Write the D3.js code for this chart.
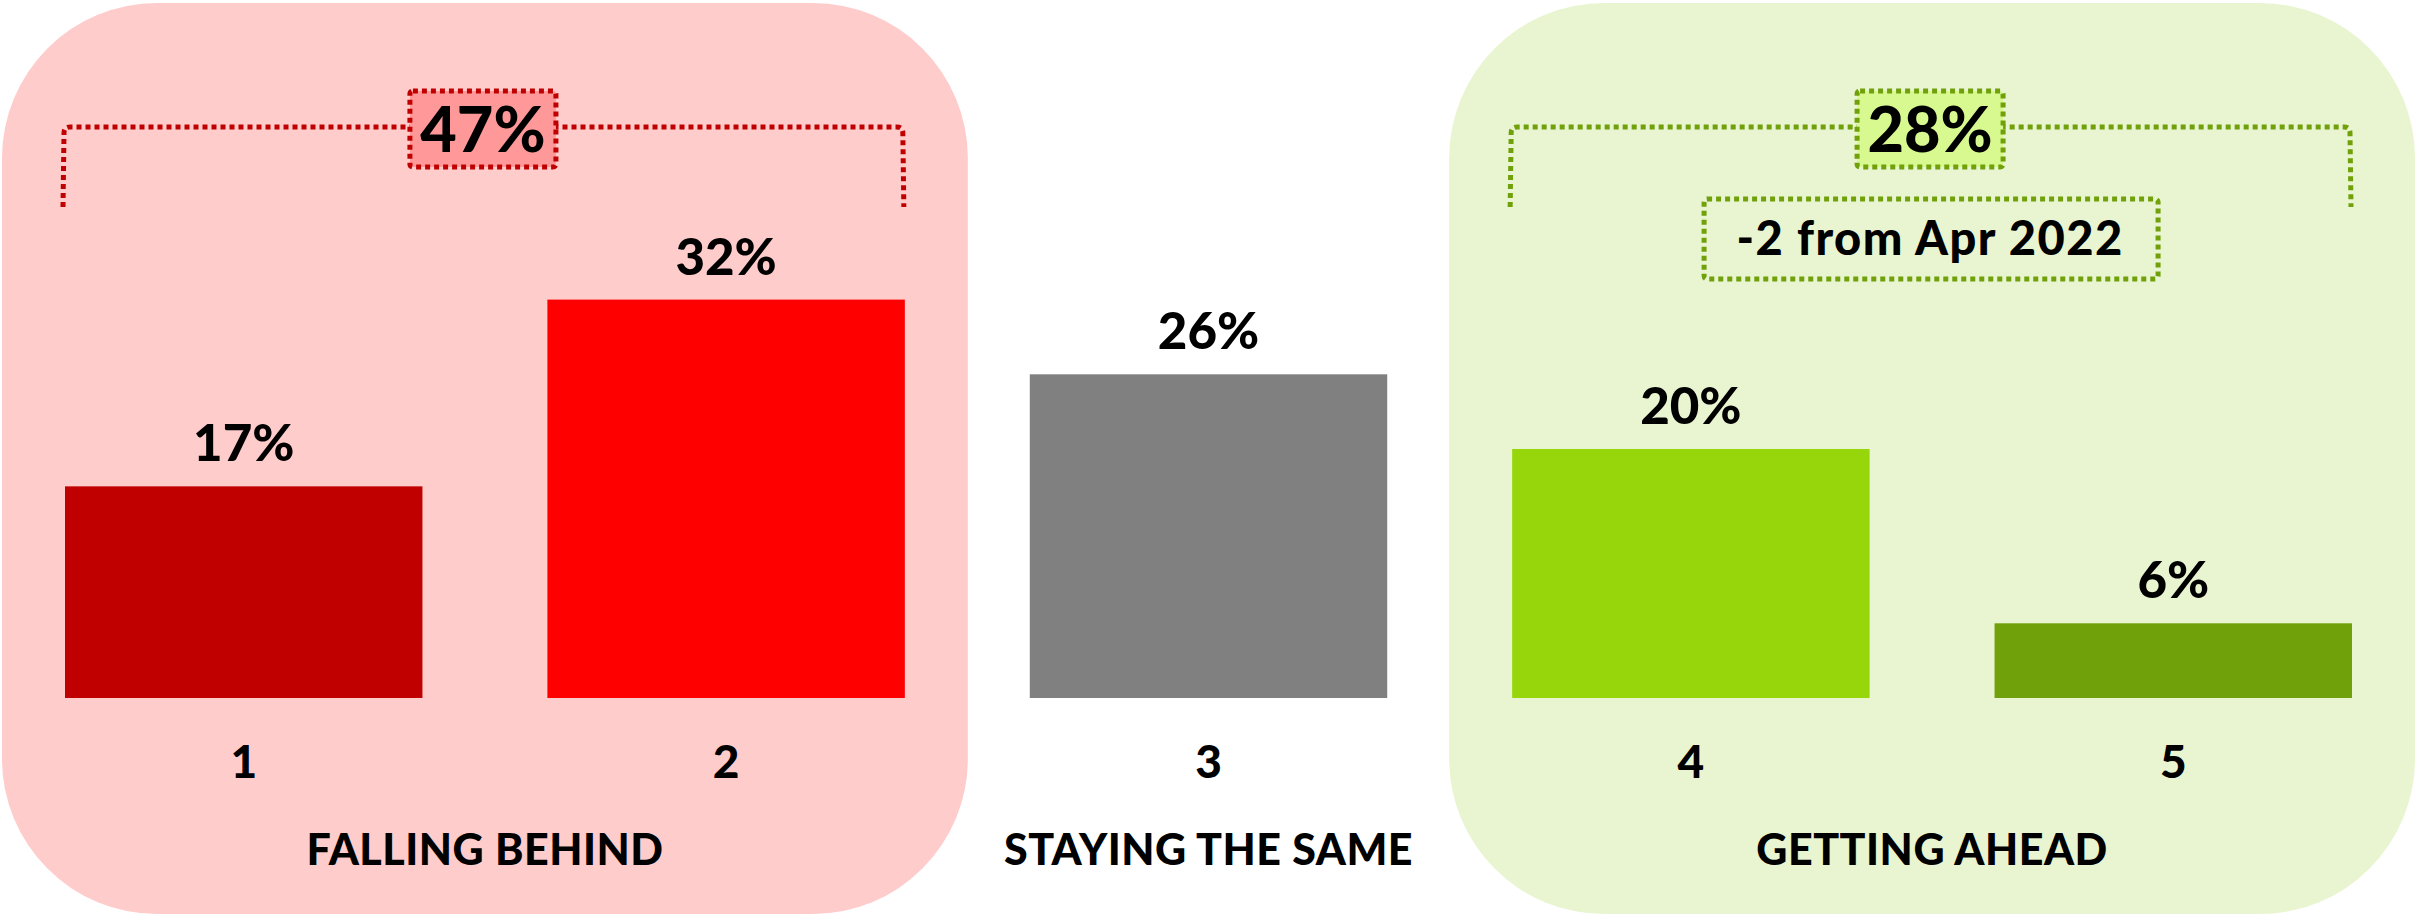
<!DOCTYPE html>
<html lang="en">
<head>
<meta charset="UTF-8">
<title>Falling behind / getting ahead</title>
<script src="https://cdn.jsdelivr.net/npm/d3@7"></script>
<style>
    body { margin: 0; background: #fff; }
    text { font-family: Lato, "Open Sans", sans-serif; font-weight: 900; fill: #000; }
</style>
</head>
<body>
<script>
    // data
    var categories = ["1", "2", "3", "4", "5"];
    var values = [17, 32, 26, 20, 6];
    var barColors = ["#c00000", "#ff0000", "#808080", "#97d60a", "#70a00a"];

    var groupLabels = ["FALLING BEHIND", "STAYING THE SAME", "GETTING AHEAD"];
    var groupFirst = ["1", "3", "4"];
    var groupLast = ["2", "3", "5"];
    var groupTotals = ["47%", null, "28%"];
    var groupPanel = ["#ffcccc", null, "#e9f5d0"];
    var groupStroke = ["#c00000", null, "#70a00a"];
    var groupBox = ["#ff9999", null, "#d7f98f"];
    var gettingAheadNote = "-2 from Apr 2022";

    var width = 2417, height = 916;

    var x = d3.scaleBand()
        .domain(categories)
        .range([65, 2352])
        .paddingInner(0.259)
        .paddingOuter(0);

    var y = d3.scaleLinear()
        .domain([0, 40])
        .range([698, 200]);

    var svg = d3.select("body").append("svg")
        .attr("width", width)
        .attr("height", height);

    // background panels for the two outer groups
    groupLabels.forEach(function(g, i) {
        if (!groupPanel[i]) return;
        var x0 = x(groupFirst[i]) - 63;
        var x1 = x(groupLast[i]) + x.bandwidth() + 63;
        svg.append("rect")
            .attr("x", x0)
            .attr("y", 3)
            .attr("width", x1 - x0)
            .attr("height", 911)
            .attr("rx", 155)
            .attr("ry", 155)
            .attr("fill", groupPanel[i]);
    });

    // bars
    svg.selectAll(".bar")
        .data(values)
        .enter().append("rect")
        .attr("class", "bar")
        .attr("x", (d, i) => x(categories[i]))
        .attr("y", d => y(d))
        .attr("width", x.bandwidth())
        .attr("height", d => y(0) - y(d))
        .attr("fill", (d, i) => barColors[i]);

    // value labels
    svg.selectAll(".val")
        .data(values)
        .enter().append("text")
        .attr("class", "val")
        .attr("x", (d, i) => x(categories[i]) + x.bandwidth() / 2)
        .attr("y", d => y(d) - 25)
        .attr("text-anchor", "middle")
        .style("font-size", "51px")
        .text(d => d + "%");

    // category axis (no line, no ticks)
    var xAxis = d3.axisBottom(x).tickSize(0).tickPadding(0);
    var axisG = svg.append("g")
        .attr("transform", "translate(0,745)")
        .call(xAxis);
    axisG.select(".domain").remove();
    axisG.selectAll("text")
        .attr("dy", "0.71em")
        .style("font-size", "46px")
        .style("font-family", "Lato, sans-serif")
        .attr("fill", "#000");

    // group labels
    groupLabels.forEach(function(g, i) {
        var cx;
        if (groupPanel[i]) {
            cx = (x(groupFirst[i]) + x(groupLast[i]) + x.bandwidth()) / 2;
        } else {
            cx = x(groupFirst[i]) + x.bandwidth() / 2;
        }
        svg.append("text")
            .attr("x", cx)
            .attr("y", 865)
            .attr("text-anchor", "middle")
            .style("font-size", "43px")
            .style("letter-spacing", "0.5px")
            .text(g);
    });

    // dotted brackets with totals
    groupLabels.forEach(function(g, i) {
        if (!groupTotals[i]) return;
        var x0 = x(groupFirst[i]) - 2;
        var x1 = x(groupLast[i]) + x.bandwidth() - 2;
        var top = 127, bot = 207, r = 6;
        var p = d3.path();
        p.moveTo(x0, bot);
        p.lineTo(x0 + 1, top + r);
        p.quadraticCurveTo(x0 + 1, top, x0 + 1 + r, top);
        p.lineTo(x1 - r, top);
        p.quadraticCurveTo(x1, top, x1, top + r);
        p.lineTo(x1 + 1, bot);
        svg.append("path")
            .attr("d", p.toString())
            .attr("fill", "none")
            .attr("stroke", groupStroke[i])
            .attr("stroke-width", 5)
            .attr("stroke-dasharray", "5,4");

        var cx = (x0 + x1) / 2;
        svg.append("rect")
            .attr("x", cx - 73)
            .attr("y", 91)
            .attr("width", 146)
            .attr("height", 76)
            .attr("rx", 3)
            .attr("fill", groupBox[i])
            .attr("stroke", groupStroke[i])
            .attr("stroke-width", 5)
            .attr("stroke-dasharray", "5,4");
        svg.append("text")
            .attr("x", cx)
            .attr("y", 152)
            .attr("text-anchor", "middle")
            .style("font-size", "63px")
            .text(groupTotals[i]);

        if (i === 2) {
            svg.append("rect")
                .attr("x", cx - 226)
                .attr("y", 199)
                .attr("width", 454)
                .attr("height", 80)
                .attr("rx", 3)
                .attr("fill", "none")
                .attr("stroke", groupStroke[i])
                .attr("stroke-width", 5)
                .attr("stroke-dasharray", "5,4");
            svg.append("text")
                .attr("x", cx)
                .attr("y", 255)
                .attr("text-anchor", "middle")
                .style("font-size", "47px")
                .style("letter-spacing", "1.5px")
                .text(gettingAheadNote);
        }
    });
</script>
</body>
</html>
